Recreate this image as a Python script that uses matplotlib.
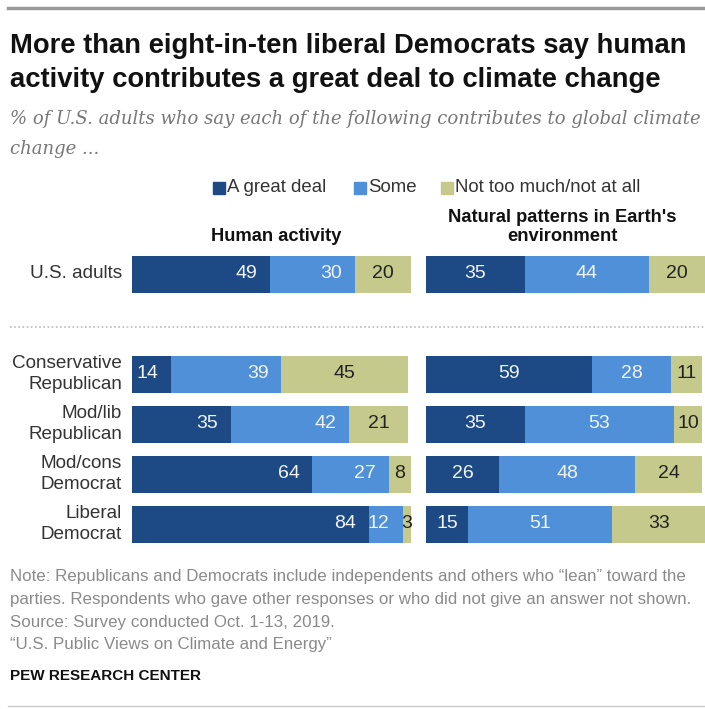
import matplotlib
matplotlib.use("Agg")
import matplotlib.pyplot as plt
from matplotlib.lines import Line2D
from matplotlib.patches import Rectangle

# ---------------- data ----------------
groups = ["U.S. adults", "Conservative\nRepublican", "Mod/lib\nRepublican",
          "Mod/cons\nDemocrat", "Liberal\nDemocrat"]
series = ["A great deal", "Some", "Not too much/not at all"]
human_great = [49, 14, 35, 64, 84]
human_some = [30, 39, 42, 27, 12]
human_not = [20, 45, 21, 8, 3]
natural_great = [35, 59, 35, 26, 15]
natural_some = [44, 28, 53, 48, 51]
natural_not = [20, 11, 10, 24, 33]
panel_titles = ["Human activity", "Natural patterns in Earth's\nenvironment"]

title = ("More than eight-in-ten liberal Democrats say human\n"
         "activity contributes a great deal to climate change")
subtitle = ("% of U.S. adults who say each of the following contributes to global climate\n"
            "change ...")
notes = ["Note: Republicans and Democrats include independents and others who \u201clean\u201d toward the",
         "parties. Respondents who gave other responses or who did not give an answer not shown.",
         "Source: Survey conducted Oct. 1-13, 2019.",
         "\u201cU.S. Public Views on Climate and Energy\u201d"]
source_org = "PEW RESEARCH CENTER"

colors = ["#1d4a85", "#4f90d9", "#c5ca8c"]
text_colors = ["#f2f4f8", "#f2f4f8", "#222222"]

# ---------------- layout helpers ----------------
W, H = 705, 709
fig = plt.figure(figsize=(W / 100, H / 100), dpi=100)
fig.patch.set_facecolor("white")

SANS = ["Liberation Sans", "DejaVu Sans"]
BOLD = ["Liberation Sans", "DejaVu Sans"]


def fx(px):
    return px / W


def fy(py):
    return 1 - py / H


def ftext(x, y, s, **kw):
    fig.text(fx(x), fy(y), s, **kw)


# rules
fig.add_artist(Line2D([fx(8), fx(705)], [fy(8), fy(8)], color="#9a9a9a", lw=2.5))
fig.add_artist(Line2D([fx(8), fx(705)], [fy(706), fy(706)], color="#c8c8c8", lw=1))
fig.add_artist(Line2D([fx(10), fx(705)], [fy(327), fy(327)], color="#bbbbbb",
                      lw=1.2, linestyle=(0, (1, 1.5))))

# title / subtitle
ftext(10, 63, title, fontsize=19.7, fontweight="bold", family=BOLD,
      color="#111111", va="center", ha="left", linespacing=1.36)
ftext(10, 134, subtitle, fontsize=13, style="italic", family=["DejaVu Serif"],
      color="#777777", va="center", ha="left", linespacing=1.8)

# legend
leg_sq_x = [213, 354, 441]
for i, name in enumerate(series):
    fig.add_artist(Rectangle((fx(leg_sq_x[i]), fy(194)), fx(12), 12 / H,
                             color=colors[i], transform=fig.transFigure))
    ftext(leg_sq_x[i] + 14, 188, name, fontsize=13.4, family=SANS,
          color="#333333", va="center", ha="left")

# panel headers
ftext(276, 237, panel_titles[0], fontsize=13.2, fontweight="bold", family=BOLD,
      color="#111111", va="center", ha="center")
ftext(562, 227, panel_titles[1], fontsize=13.2, fontweight="bold", family=BOLD,
      color="#111111", va="center", ha="center", linespacing=1.1)

# ---------------- bars ----------------
ypos = [0, 2, 3, 4, 5]
bar_h = 0.74
top_px, bot_px = 249, 549
panels = [
    (132, [human_great, human_some, human_not], "right"),
    (426, [natural_great, natural_some, natural_not], "center"),
]
for px0, vals, align in panels:
    ax = fig.add_axes([fx(px0), fy(bot_px), fx(282), (bot_px - top_px) / H])
    ax.set_xlim(0, 100)
    ax.set_ylim(5.5, -0.5)
    ax.axis("off")
    left = [0] * len(groups)
    for s_i, v in enumerate(vals):
        ax.barh(ypos, v, left=left, height=bar_h, color=colors[s_i], linewidth=0)
        for r, (l, w) in enumerate(zip(left, v)):
            if align == "right" and s_i < 2:
                ax.annotate(str(w), xy=(l + w, ypos[r]), xytext=(-13, 0),
                            textcoords="offset pixels", ha="right", va="center",
                            fontsize=14, family=SANS, color=text_colors[s_i])
            else:
                ax.text(l + w / 2, ypos[r], str(w), ha="center", va="center",
                        fontsize=14, family=SANS, color=text_colors[s_i])
        left = [a + b for a, b in zip(left, v)]
    if px0 == 132:
        for r, g in enumerate(groups):
            ax.annotate(g, xy=(0, ypos[r]), xytext=(-10, 0),
                        textcoords="offset pixels", ha="right", va="center",
                        fontsize=13.6, family=SANS, color="#333333",
                        linespacing=1.25)

# notes
for i, line in enumerate(notes):
    ftext(10, 577 + i * 22.5, line, fontsize=12.2, family=SANS, color="#8a8a8a",
          va="center", ha="left")
ftext(10, 676, source_org, fontsize=11, fontweight="bold", family=BOLD,
      color="#111111", va="center", ha="left")

fig.savefig("out.png", dpi=100, facecolor="white")
